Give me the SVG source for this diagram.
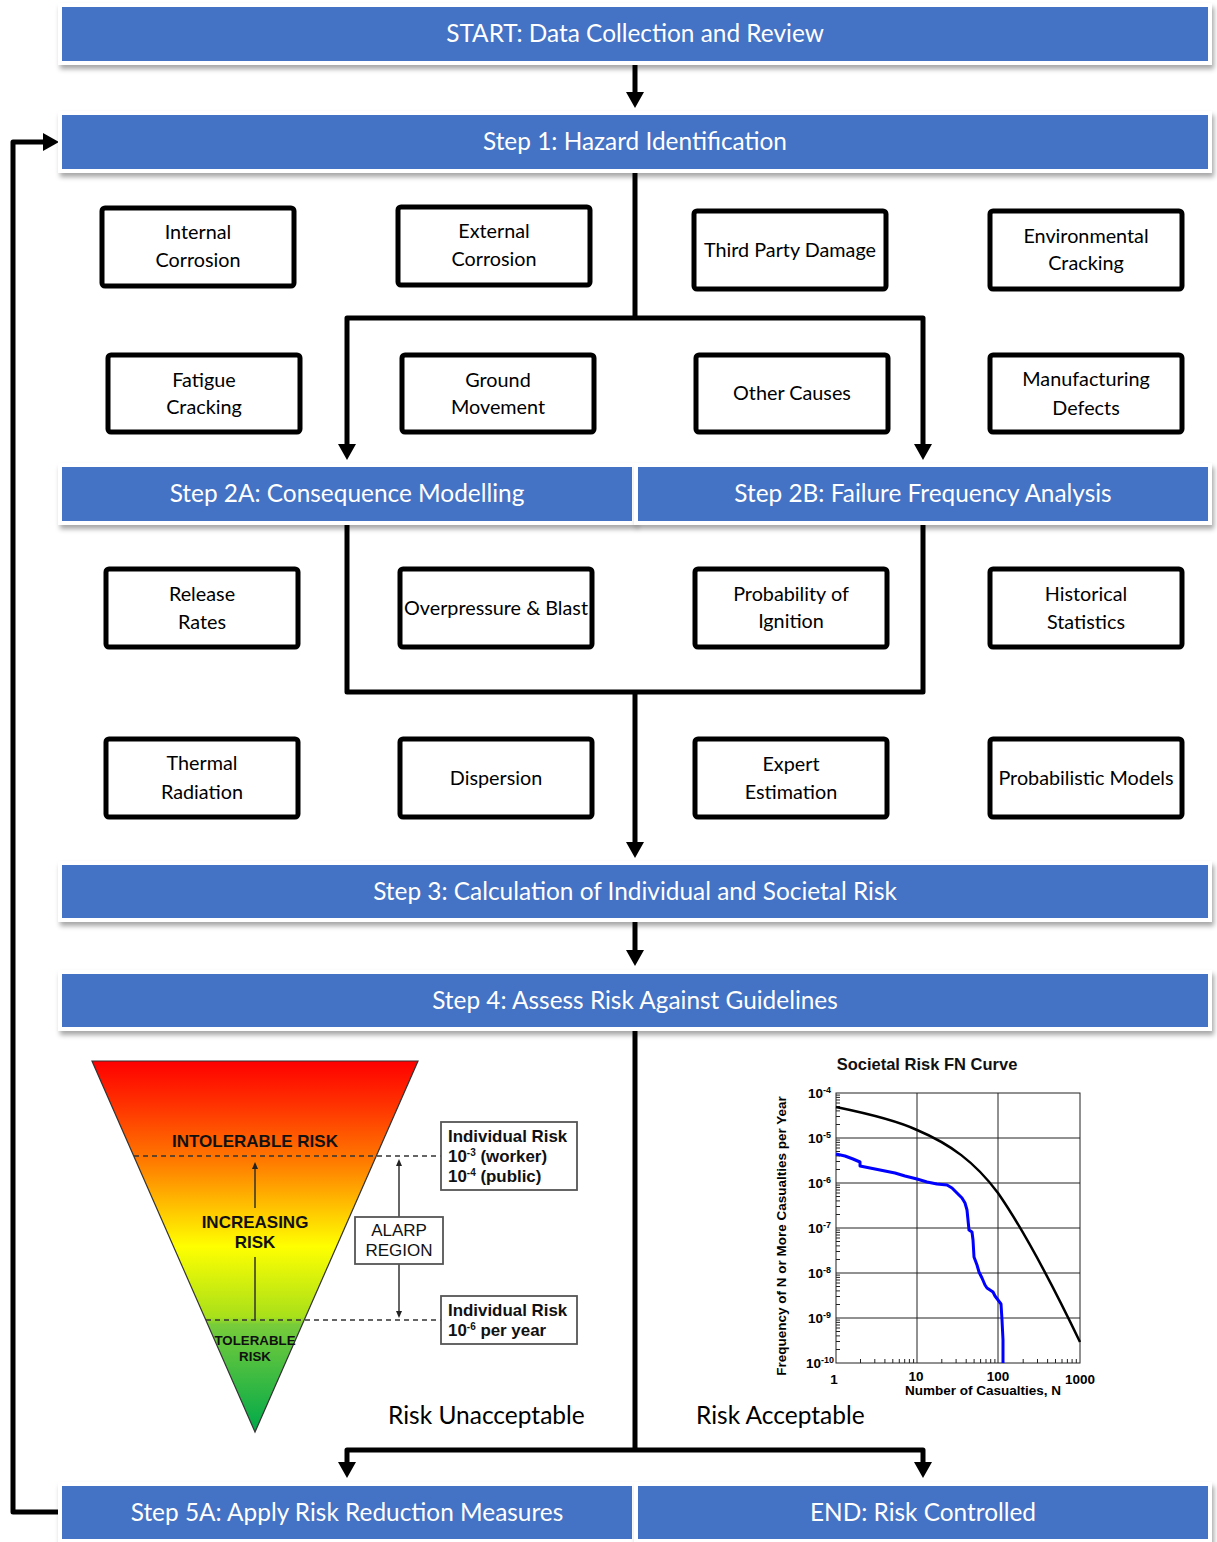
<svg xmlns="http://www.w3.org/2000/svg" width="1217" height="1542" viewBox="0 0 1217 1542">
<defs>
<filter id="sh" x="-5%" y="-30%" width="110%" height="180%">
<feDropShadow dx="2" dy="4" stdDeviation="2.5" flood-color="#000" flood-opacity="0.35"/>
</filter>
<marker id="ah" markerUnits="userSpaceOnUse" markerWidth="16" markerHeight="18" refX="6" refY="9" orient="auto">
<path d="M0,0 L16,9 L0,18 z" fill="#000"/>
</marker>
<marker id="sm" markerUnits="userSpaceOnUse" markerWidth="7" markerHeight="6" refX="3" refY="3" orient="auto-start-reverse">
<path d="M0,0 L7,3 L0,6 z" fill="#222"/>
</marker>
<linearGradient id="tri" gradientUnits="userSpaceOnUse" x1="0" y1="1061" x2="0" y2="1432">
<stop offset="0" stop-color="#FF0000"/>
<stop offset="0.12" stop-color="#FF3300"/>
<stop offset="0.27" stop-color="#FF7A00"/>
<stop offset="0.5" stop-color="#FFFF00"/>
<stop offset="0.69" stop-color="#A8E01A"/>
<stop offset="0.71" stop-color="#78CC3A"/>
<stop offset="1" stop-color="#00A94A"/>
</linearGradient>
</defs>
<style>
.hw{fill:#fff}
.hb{fill:#4472C4}
.ht{font-family:Lato,"Open Sans",sans-serif;font-size:24.4px;fill:#fff;text-anchor:middle}
.bx{fill:#fff;stroke:#000;stroke-width:5}
.bt{font-family:Lato,"Open Sans",sans-serif;font-size:19.8px;fill:#000;text-anchor:middle}
.cn{fill:none;stroke:#000;stroke-width:5;stroke-linejoin:round}
.lt{font-family:"Liberation Sans",Arial,sans-serif;font-weight:bold;fill:#111;text-anchor:middle}
.dl{stroke:#333;stroke-width:1.3;stroke-dasharray:5,4}
.ib{fill:#fff;stroke:#555;stroke-width:1.8}
.it{font-family:"Liberation Sans",Arial,sans-serif;font-weight:bold;font-size:16.9px;fill:#111}
.ra{font-family:Lato,"Open Sans",sans-serif;font-size:24.5px;fill:#000}
.ax{font-family:"Liberation Sans",Arial,sans-serif;font-weight:bold;font-size:13.5px;fill:#000}
.gl{stroke:#222;stroke-width:1;fill:none}
</style>

<g id="connectors">
<path class="cn" d="M635,61 V98" marker-end="url(#ah)"/>
<path class="cn" d="M635,169 V318"/>
<path class="cn" d="M635,318 H347 V450" marker-end="url(#ah)"/>
<path class="cn" d="M635,318 H923 V450" marker-end="url(#ah)"/>
<path class="cn" d="M347,521 V692 H923 V521"/>
<path class="cn" d="M635,692 V848" marker-end="url(#ah)"/>
<path class="cn" d="M635,918 V956" marker-end="url(#ah)"/>
<path class="cn" d="M635,1027 V1450"/>
<path class="cn" d="M635,1450 H347 V1468" marker-end="url(#ah)"/>
<path class="cn" d="M635,1450 H923 V1468" marker-end="url(#ah)"/>
<path class="cn" d="M62,1512 H13 V142 H49" marker-end="url(#ah)"/>
</g>

<g id="start">
<rect class="hw" x="58" y="3" width="1154" height="62" filter="url(#sh)"/>
<rect class="hb" x="62" y="7" width="1146" height="54"/>
<text class="ht" x="635" y="42">START: Data Collection and Review</text>
</g>
<g id="step1">
<rect class="hw" x="58" y="111" width="1154" height="62" filter="url(#sh)"/>
<rect class="hb" x="62" y="115" width="1146" height="54"/>
<text class="ht" x="635" y="150">Step 1: Hazard Identification</text>
</g>
<g id="step2a">
<rect class="hw" x="58" y="463" width="578" height="62" filter="url(#sh)"/>
<rect class="hb" x="62" y="467" width="570" height="54"/>
<text class="ht" x="347" y="502">Step 2A: Consequence Modelling</text>
</g>
<g id="step2b">
<rect class="hw" x="634" y="463" width="578" height="62" filter="url(#sh)"/>
<rect class="hb" x="638" y="467" width="570" height="54"/>
<text class="ht" x="923" y="502">Step 2B: Failure Frequency Analysis</text>
</g>
<g id="step3">
<rect class="hw" x="58" y="861" width="1154" height="61" filter="url(#sh)"/>
<rect class="hb" x="62" y="865" width="1146" height="53"/>
<text class="ht" x="635" y="900">Step 3: Calculation of Individual and Societal Risk</text>
</g>
<g id="step4">
<rect class="hw" x="58" y="970" width="1154" height="61" filter="url(#sh)"/>
<rect class="hb" x="62" y="974" width="1146" height="53"/>
<text class="ht" x="635" y="1009">Step 4: Assess Risk Against Guidelines</text>
</g>
<g id="step5a">
<rect class="hw" x="58" y="1482" width="578" height="61" filter="url(#sh)"/>
<rect class="hb" x="62" y="1486" width="570" height="53"/>
<text class="ht" x="347" y="1521">Step 5A: Apply Risk Reduction Measures</text>
</g>
<g id="end">
<rect class="hw" x="634" y="1482" width="578" height="61" filter="url(#sh)"/>
<rect class="hb" x="638" y="1486" width="570" height="53"/>
<text class="ht" x="923" y="1521">END: Risk Controlled</text>
</g>

<g id="internal-corrosion"><rect class="bx" x="102" y="208" width="192" height="78" rx="3"/><text class="bt" x="198" y="239">Internal</text><text class="bt" x="198" y="267">Corrosion</text></g>
<g id="external-corrosion"><rect class="bx" x="398" y="207" width="192" height="78" rx="3"/><text class="bt" x="494" y="238">External</text><text class="bt" x="494" y="266">Corrosion</text></g>
<g id="third-party-damage"><rect class="bx" x="694" y="211" width="192" height="78" rx="3"/><text class="bt" x="790" y="257">Third Party Damage</text></g>
<g id="environmental-cracking"><rect class="bx" x="990" y="211" width="192" height="78" rx="3"/><text class="bt" x="1086" y="243">Environmental</text><text class="bt" x="1086" y="270">Cracking</text></g>

<g id="fatigue-cracking"><rect class="bx" x="108" y="355" width="192" height="77" rx="3"/><text class="bt" x="204" y="387">Fatigue</text><text class="bt" x="204" y="414">Cracking</text></g>
<g id="ground-movement"><rect class="bx" x="402" y="355" width="192" height="77" rx="3"/><text class="bt" x="498" y="387">Ground</text><text class="bt" x="498" y="414">Movement</text></g>
<g id="other-causes"><rect class="bx" x="696" y="355" width="192" height="77" rx="3"/><text class="bt" x="792" y="400">Other Causes</text></g>
<g id="manufacturing-defects"><rect class="bx" x="990" y="355" width="192" height="77" rx="3"/><text class="bt" x="1086" y="386">Manufacturing</text><text class="bt" x="1086" y="415">Defects</text></g>

<g id="release-rates"><rect class="bx" x="106" y="569" width="192" height="78" rx="3"/><text class="bt" x="202" y="601">Release</text><text class="bt" x="202" y="629">Rates</text></g>
<g id="overpressure-blast"><rect class="bx" x="400" y="569" width="192" height="78" rx="3"/><text class="bt" x="496" y="615">Overpressure &amp; Blast</text></g>
<g id="probability-ignition"><rect class="bx" x="695" y="569" width="192" height="78" rx="3"/><text class="bt" x="791" y="601">Probability of</text><text class="bt" x="791" y="628">Ignition</text></g>
<g id="historical-statistics"><rect class="bx" x="990" y="569" width="192" height="78" rx="3"/><text class="bt" x="1086" y="601">Historical</text><text class="bt" x="1086" y="629">Statistics</text></g>

<g id="thermal-radiation"><rect class="bx" x="106" y="739" width="192" height="78" rx="3"/><text class="bt" x="202" y="770">Thermal</text><text class="bt" x="202" y="799">Radiation</text></g>
<g id="dispersion"><rect class="bx" x="400" y="739" width="192" height="78" rx="3"/><text class="bt" x="496" y="785">Dispersion</text></g>
<g id="expert-estimation"><rect class="bx" x="695" y="739" width="192" height="78" rx="3"/><text class="bt" x="791" y="771">Expert</text><text class="bt" x="791" y="799">Estimation</text></g>
<g id="probabilistic-models"><rect class="bx" x="990" y="739" width="192" height="78" rx="3"/><text class="bt" x="1086" y="785">Probabilistic Models</text></g>

<g id="risk-triangle">
<polygon points="92,1061 418,1061 255,1432" fill="url(#tri)" stroke="#333" stroke-width="1.2"/>
<line class="dl" x1="134" y1="1156" x2="441" y2="1156"/>
<line class="dl" x1="206" y1="1320" x2="441" y2="1320"/>
<text class="lt" x="255" y="1147" font-size="17">INTOLERABLE RISK</text>
<text class="lt" x="255" y="1228" font-size="17">INCREASING</text>
<text class="lt" x="255" y="1248" font-size="17">RISK</text>
<text class="lt" x="255" y="1345" font-size="13.3">TOLERABLE</text>
<text class="lt" x="255" y="1361" font-size="13.3">RISK</text>
<line x1="255" y1="1320" x2="255" y2="1257" stroke="#333" stroke-width="1.5"/>
<line x1="255" y1="1208" x2="255" y2="1166" stroke="#333" stroke-width="1.5" marker-end="url(#sm)"/>
<line x1="399" y1="1217" x2="399" y2="1163" stroke="#333" stroke-width="1.5" marker-end="url(#sm)"/>
<line x1="399" y1="1264" x2="399" y2="1314" stroke="#333" stroke-width="1.5" marker-end="url(#sm)"/>
<rect class="ib" x="355" y="1217" width="88" height="47"/>
<text x="399" y="1236" font-family="Liberation Sans, Arial, sans-serif" font-size="17" fill="#111" text-anchor="middle">ALARP</text>
<text x="399" y="1256" font-family="Liberation Sans, Arial, sans-serif" font-size="17" fill="#111" text-anchor="middle">REGION</text>
<rect class="ib" x="441" y="1122" width="136" height="68"/>
<text class="it" x="448" y="1142">Individual Risk</text>
<text class="it" x="448" y="1162">10<tspan font-size="10" dy="-6">-3</tspan><tspan dy="6"> (worker)</tspan></text>
<text class="it" x="448" y="1182">10<tspan font-size="10" dy="-6">-4</tspan><tspan dy="6"> (public)</tspan></text>
<rect class="ib" x="441" y="1296" width="136" height="48"/>
<text class="it" x="448" y="1316">Individual Risk</text>
<text class="it" x="448" y="1336">10<tspan font-size="10" dy="-6">-6</tspan><tspan dy="6"> per year</tspan></text>
</g>

<g id="fn-chart">
<text x="927" y="1070" font-family="Liberation Sans, Arial, sans-serif" font-weight="bold" font-size="16.5" fill="#111" text-anchor="middle">Societal Risk FN Curve</text>
<rect x="836" y="1093" width="244" height="270" fill="#fff" stroke="#222" stroke-width="1"/>
<path class="gl" d="M917,1093 V1363 M998,1093 V1363 M836,1138 H1080 M836,1183 H1080 M836,1228 H1080 M836,1273 H1080 M836,1318 H1080"/>
<path class="gl" d="M836,1349.5h4M836,1341.5h4M836,1335.9h4M836,1331.5h4M836,1328h4M836,1325h4M836,1322.4h4M836,1320.1h4
M836,1304.5h4M836,1296.5h4M836,1290.9h4M836,1286.5h4M836,1283h4M836,1280h4M836,1277.4h4M836,1275.1h4
M836,1259.5h4M836,1251.5h4M836,1245.9h4M836,1241.5h4M836,1238h4M836,1235h4M836,1232.4h4M836,1230.1h4
M836,1214.5h4M836,1206.5h4M836,1200.9h4M836,1196.5h4M836,1193h4M836,1190h4M836,1187.4h4M836,1185.1h4
M836,1169.5h4M836,1161.5h4M836,1155.9h4M836,1151.5h4M836,1148h4M836,1145h4M836,1142.4h4M836,1140.1h4
M836,1124.5h4M836,1116.5h4M836,1110.9h4M836,1106.5h4M836,1103h4M836,1100h4M836,1097.4h4M836,1095.1h4
M860.5,1363v-4M874.8,1363v-4M884.9,1363v-4M892.8,1363v-4M899.3,1363v-4M904.7,1363v-4M909.4,1363v-4M913.6,1363v-4
M941.8,1363v-4M956.1,1363v-4M966.2,1363v-4M974.1,1363v-4M980.6,1363v-4M986,1363v-4M990.7,1363v-4M994.9,1363v-4
M1023.2,1363v-4M1037.5,1363v-4M1047.6,1363v-4M1055.5,1363v-4M1062,1363v-4M1067.4,1363v-4M1072.1,1363v-4M1076.3,1363v-4"/>
<path fill="none" stroke="#000" stroke-width="2.5" stroke-linejoin="round" d="M836,1107 C870,1114 900,1122 917,1130 C950,1144 975,1162 998,1193 C1025,1232 1055,1290 1080,1342"/>
<polyline fill="none" stroke="#0000FF" stroke-width="3" stroke-linejoin="round" points="836,1154 845,1156 853,1159 860,1162 860,1166 870,1168 880,1170 895,1173 905,1176 917,1179 927,1182 937,1184 947,1185 952,1188 957,1193 962,1198 965,1203 967,1210 968,1220 969,1230 972,1232 973,1240 974,1257 977,1265 979,1272 982,1278 985,1285 987,1288 993,1292 995,1296 998,1300 1001,1304 1002,1320 1003,1340 1003,1363"/>
<g class="ax" text-anchor="end">
<text x="831" y="1098">10<tspan font-size="9" dy="-5">-4</tspan></text>
<text x="831" y="1143">10<tspan font-size="9" dy="-5">-5</tspan></text>
<text x="831" y="1188">10<tspan font-size="9" dy="-5">-6</tspan></text>
<text x="831" y="1233">10<tspan font-size="9" dy="-5">-7</tspan></text>
<text x="831" y="1278">10<tspan font-size="9" dy="-5">-8</tspan></text>
<text x="831" y="1323">10<tspan font-size="9" dy="-5">-9</tspan></text>
<text x="834" y="1368">10<tspan font-size="9" dy="-5">-10</tspan></text>
</g>
<g class="ax" text-anchor="middle">
<text x="834" y="1384">1</text>
<text x="916" y="1381">10</text>
<text x="998" y="1381">100</text>
<text x="1080" y="1384">1000</text>
</g>
<text class="ax" x="983" y="1395" font-size="15" text-anchor="middle">Number of Casualties, N</text>
<text class="ax" font-size="13.2" text-anchor="middle" transform="translate(786,1236) rotate(-90)">Frequency of N or More Casualties per Year</text>
</g>

<text class="ra" x="388" y="1424">Risk Unacceptable</text>
<text class="ra" x="696" y="1424">Risk Acceptable</text>
</svg>
